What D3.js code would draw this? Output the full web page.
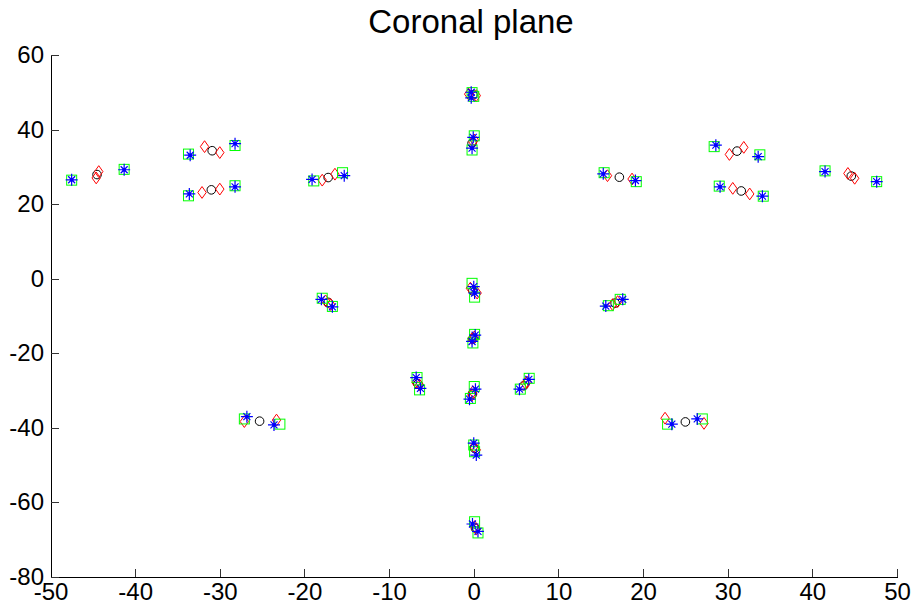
<!DOCTYPE html>
<html>
<head>
<meta charset="utf-8">
<script src="https://cdn.jsdelivr.net/npm/d3@7"></script>
<style>
  html, body { margin: 0; padding: 0; background: #fff; }
  svg { display: block; }
  text { font-family: "Liberation Sans", Arial, Helvetica, sans-serif; }
</style>
</head>
<body>
<svg id="chart" width="916" height="608"></svg>
<script>
// ---- data ----
const title = "Coronal plane";
const xTicks = [-50, -40, -30, -20, -10, 0, 10, 20, 30, 40, 50];
const yTicks = [-80, -60, -40, -20, 0, 20, 40, 60];

const circles = [
  [-44.5, 27.9], [-30.9, 34.3], [-31.0, 23.8], [-17.2, 27.1], [-0.1, 49.3], [-0.2, 36.3],
  [17.2, 27.2], [31.1, 34.2], [31.6, 23.5], [44.6, 27.5], [-17.2, -6.4], [-0.1, -3.3],
  [-0.1, -16.2], [-6.6, -28.3], [-0.15, -31.0], [5.9, -28.8], [16.7, -6.6], [-25.3, -38.3],
  [25.0, -38.5], [0.1, -45.6], [0.2, -67.0]
];
const diamonds = [
  [-44.3, 28.7], [-44.6, 27.0], [-31.8, 35.4], [-30.0, 33.8], [-32.1, 23.1], [-30.0, 24.0],
  [-17.9, 26.4], [-16.4, 28.0], [-0.6, 49.5], [0.3, 49.1], [-0.1, 36.7], [0.06, 37.2],
  [15.8, 27.6], [18.7, 26.7], [30.2, 33.3], [31.9, 35.2], [30.6, 24.2], [32.6, 22.7],
  [44.2, 28.2], [45.0, 26.9], [-17.5, -6.0], [-16.9, -7.0], [-0.4, -2.6], [0.4, -3.9],
  [-0.2, -16.1], [0.06, -15.7], [-6.8, -28.0], [-6.4, -28.6], [-0.1, -30.4], [-0.2, -31.3],
  [6.1, -28.2], [6.3, -27.8], [16.4, -7.0], [17.0, -6.2], [-27.1, -38.4], [-23.3, -38.0],
  [22.6, -37.5], [27.2, -38.9], [0.0, -45.2], [0.3, -46.0], [0.1, -66.6], [0.3, -67.3]
];
const squares = [
  [-47.5, 26.4], [-41.3, 29.3], [-33.7, 33.4], [-28.2, 35.7], [-33.7, 22.2], [-28.2, 24.9],
  [-18.9, 26.2], [-15.5, 28.4], [-0.2, 49.9], [0.0, 48.9], [0.06, 38.3], [-0.2, 34.5],
  [15.4, 28.4], [19.2, 26.0], [28.4, 35.4], [33.8, 33.2], [29.0, 24.8], [34.2, 22.1],
  [41.5, 28.9], [47.6, 26.0], [-17.9, -5.3], [-16.7, -7.5], [-0.2, -1.3], [0.1, -5.0],
  [0.1, -15.0], [-0.1, -17.3], [-6.7, -26.6], [-6.4, -29.9], [0.06, -29.0], [-0.4, -32.2],
  [6.55, -26.8], [5.5, -29.7], [15.9, -7.3], [17.3, -5.6], [-27.1, -37.7], [-22.9, -39.1],
  [22.9, -39.1], [27.0, -37.7], [0.0, -44.7], [0.1, -46.5], [0.1, -65.3], [0.5, -68.3]
];
const stars = [
  [-47.5, 26.5], [-41.3, 29.2], [-33.5, 33.1], [-28.2, 36.2], [-33.6, 22.7], [-28.2, 24.6],
  [-19.1, 26.6], [-15.3, 27.6], [-0.3, 50.0], [-0.3, 48.5], [-0.06, 37.9], [-0.2, 35.0],
  [15.3, 28.1], [19.1, 26.3], [28.6, 35.8], [33.6, 32.7], [29.1, 24.6], [34.1, 22.1],
  [41.5, 28.7], [47.6, 26.0], [-18.0, -5.6], [-16.7, -7.6], [0.0, -2.2], [0.1, -3.9],
  [0.17, -15.2], [-0.2, -16.9], [-6.8, -26.6], [-6.3, -29.5], [0.2, -29.7], [-0.5, -32.4],
  [6.5, -27.1], [5.4, -29.7], [15.6, -7.4], [17.6, -5.6], [-26.8, -37.1], [-23.6, -39.3],
  [23.4, -39.1], [26.4, -37.7], [0.0, -44.2], [0.3, -47.4], [-0.15, -65.9], [0.5, -67.9]
];

// ---- layout ----
const svg = d3.select("#chart");
const x = d3.scaleLinear().domain([-50, 50]).range([50.5, 897]);
const y = d3.scaleLinear().domain([-80, 60]).range([576.5, 55]);

// title
svg.append("text")
  .attr("x", 471).attr("y", 33)
  .attr("text-anchor", "middle")
  .attr("font-size", 33)
  .attr("fill", "#000")
  .text(title);

// axes
const xAxis = d3.axisBottom(x).tickValues(xTicks).tickSizeInner(-8).tickSizeOuter(0).tickPadding(6.5)
  .tickFormat(d3.format("d"));
const yAxis = d3.axisLeft(y).tickValues(yTicks).tickSizeInner(-8).tickSizeOuter(0).tickPadding(6.5)
  .tickFormat(d3.format("d"));

const gx = svg.append("g").attr("transform", `translate(0,${y(-80)})`).call(xAxis);
const gy = svg.append("g").attr("transform", `translate(${x(-50)},0)`).call(yAxis);
[gx, gy].forEach(g => {
  g.select(".domain").attr("stroke", "#000").attr("stroke-width", 1).attr("shape-rendering", "crispEdges");
  g.selectAll(".tick line").attr("stroke", "#333").attr("stroke-width", 1).attr("shape-rendering", "crispEdges");
  g.selectAll(".tick text").attr("font-size", 24).attr("fill", "#000")
    .attr("font-family", "'Liberation Sans', Arial, sans-serif");
});
gx.selectAll(".tick text").text(d => d < 0 ? "-" + Math.abs(d) : d);
gy.selectAll(".tick text").text(d => d < 0 ? "-" + Math.abs(d) : d);

// markers
const plot = svg.append("g");

plot.selectAll("circle.c").data(circles).join("circle")
  .attr("class", "c")
  .attr("cx", d => x(d[0])).attr("cy", d => y(d[1]))
  .attr("r", 4.3)
  .attr("fill", "none").attr("stroke", "#000").attr("stroke-width", 1);

const dw = 4.2, dh = 5.9;
plot.selectAll("path.d").data(diamonds).join("path")
  .attr("class", "d")
  .attr("d", d => {
    const cx = x(d[0]), cy = y(d[1]);
    return `M${cx},${cy - dh}L${cx + dw},${cy}L${cx},${cy + dh}L${cx - dw},${cy}Z`;
  })
  .attr("fill", "none").attr("stroke", "#ff0000").attr("stroke-width", 1);

const sq = 5;
plot.selectAll("rect.s").data(squares).join("rect")
  .attr("class", "s")
  .attr("x", d => x(d[0]) - sq).attr("y", d => y(d[1]) - sq)
  .attr("width", sq * 2).attr("height", sq * 2)
  .attr("fill", "none").attr("stroke", "#00ff00").attr("stroke-width", 1);

const sl = 6, sd = 3.5;
plot.selectAll("path.st").data(stars).join("path")
  .attr("class", "st")
  .attr("d", d => {
    const cx = x(d[0]), cy = y(d[1]);
    return `M${cx - sl},${cy}L${cx + sl},${cy}M${cx},${cy - sl}L${cx},${cy + sl}` +
           `M${cx - sd},${cy - sd}L${cx + sd},${cy + sd}M${cx - sd},${cy + sd}L${cx + sd},${cy - sd}`;
  })
  .attr("fill", "none").attr("stroke", "#0000ff").attr("stroke-width", 1.2);
plot.selectAll("circle.sc").data(stars).join("circle")
  .attr("class", "sc")
  .attr("cx", d => x(d[0])).attr("cy", d => y(d[1]))
  .attr("r", 1.8)
  .attr("fill", "#0000ff");
</script>
</body>
</html>
